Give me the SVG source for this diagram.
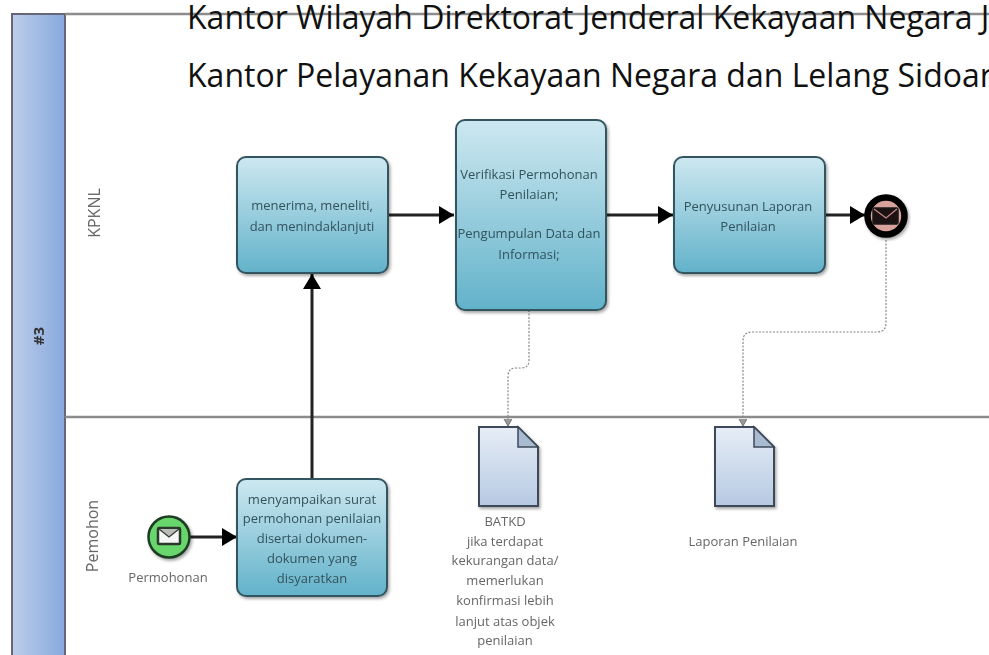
<svg xmlns="http://www.w3.org/2000/svg" width="989" height="655" viewBox="0 0 989 655">
<style>
.task{stroke:#33555f;stroke-width:2;fill:url(#tg)}
.t{font-family:"Open Sans","Noto Sans",sans-serif;font-size:13px;fill:#33525c;text-anchor:middle}
.g{font-family:"Open Sans","Noto Sans",sans-serif;font-size:13px;fill:#666;text-anchor:middle}
.h{font-family:"Open Sans","Noto Sans",sans-serif;font-size:32px;fill:#111}
.flow{fill:none;stroke:#222;stroke-width:3}
.assoc{fill:none;stroke:#888;stroke-width:1.2;stroke-dasharray:2 1.5}
.doc{fill:url(#dg);stroke:#3c4a58;stroke-width:2}
.lane{stroke:#8c8c8c;stroke-width:2.5;fill:none}
</style>
<defs>
<linearGradient id="tg" x1="0" y1="0" x2="0" y2="1"><stop offset="0" stop-color="#cde8f0"/><stop offset="1" stop-color="#62b2ca"/></linearGradient>
<linearGradient id="dg" x1="0" y1="0" x2="0" y2="1"><stop offset="0" stop-color="#e6edf6"/><stop offset="1" stop-color="#b6c9e2"/></linearGradient>
<linearGradient id="bg" x1="0" y1="0" x2="1" y2="0"><stop offset="0" stop-color="#bccde9"/><stop offset="1" stop-color="#87a9de"/></linearGradient>
<marker id="ah" markerUnits="userSpaceOnUse" markerWidth="16" markerHeight="18" refX="15" refY="9" orient="auto"><path d="M0 0L15 9L0 18Z" fill="#000"/></marker>
<marker id="oh" markerUnits="userSpaceOnUse" markerWidth="9" markerHeight="9" refX="8" refY="4" orient="auto"><path d="M1 0L8 4L1 8" fill="#999" stroke="#777"/></marker>
<filter id="sh" x="-10%" y="-10%" width="125%" height="125%"><feDropShadow dx="1.5" dy="2" stdDeviation="1.5" flood-color="#000" flood-opacity=".35"/></filter>
<filter id="b" x="-5%" y="-20%" width="110%" height="140%"><feGaussianBlur stdDeviation=".6"/></filter>
</defs>
<rect width="989" height="655" fill="#fff"/>
<g id="pool">
<path d="M12 660V14H65V660Z" fill="url(#bg)" stroke="#667" stroke-width="2"/>
<path class="lane" d="M65 14H989M65 417H989"/>
<text transform="translate(44 336) rotate(-90)" font-family="Open Sans,sans-serif" font-size="15" font-weight="700" fill="#333" text-anchor="middle" filter="url(#b)">#3</text>
<text class="g" transform="translate(100 213) rotate(-90)" style="font-size:16px" filter="url(#b)">KPKNL</text>
<text class="g" transform="translate(98 536) rotate(-90)" style="font-size:16px" filter="url(#b)">Pemohon</text>
</g>
<g id="titles">
<text class="h" x="187" y="29">Kantor Wilayah Direktorat Jenderal Kekayaan Negara J</text>
<text class="h" x="187" y="87">Kantor Pelayanan Kekayaan Negara dan Lelang Sidoar</text>
</g>
<g id="connectors">
<path class="flow" d="M388 215H454" marker-end="url(#ah)"/>
<path class="flow" d="M606 215H673" marker-end="url(#ah)"/>
<path class="flow" d="M825 215H865" marker-end="url(#ah)"/>
<path class="flow" d="M312 478V274" marker-end="url(#ah)"/>
<path class="flow" d="M190 537H237" marker-end="url(#ah)"/>
<path class="assoc" d="M529 310V360Q529 368 521 368H516Q508 368 508 376V426" marker-end="url(#oh)"/>
<path class="assoc" d="M886 240V323Q886 332 877 332H752Q743 332 743 341V426" marker-end="url(#oh)"/>
</g>
<g id="task-menerima">
<rect class="task" x="237" y="157" width="151" height="116" rx="9" filter="url(#sh)"/>
<g filter="url(#b)"><text class="t" x="312" y="210">menerima, meneliti,</text><text class="t" x="312" y="231">dan menindaklanjuti</text></g>
</g>
<g id="task-verifikasi">
<rect class="task" x="456" y="120" width="150" height="190" rx="9" filter="url(#sh)"/>
<g filter="url(#b)"><text class="t" x="529" y="179">Verifikasi Permohonan</text><text class="t" x="529" y="199">Penilaian;</text><text class="t" x="529" y="238">Pengumpulan Data dan</text><text class="t" x="529" y="259">Informasi;</text></g>
</g>
<g id="task-penyusunan">
<rect class="task" x="674" y="157" width="151" height="116" rx="9" filter="url(#sh)"/>
<g filter="url(#b)"><text class="t" x="748" y="211">Penyusunan Laporan</text><text class="t" x="748" y="231">Penilaian</text></g>
</g>
<g id="end-event">
<circle cx="886" cy="216" r="18.5" fill="#d9a39c" stroke="#000" stroke-width="6.5" filter="url(#sh)"/>
<rect x="873" y="208" width="25" height="16" rx="1.5" fill="#1c1214" stroke="#1a1a1a" stroke-width="1.5"/>
<path d="M874 209L886 218L897 209" fill="none" stroke="#c88a84" stroke-width="1.2"/>
</g>
<g id="start-event">
<circle cx="169" cy="537" r="20.5" fill="#69d66d" stroke="#1f3d24" stroke-width="2.5" filter="url(#sh)"/>
<rect x="158" y="528" width="22" height="16" rx="1" fill="#f6f6f6" stroke="#2a3a2a" stroke-width="2.5"/>
<path d="M159 529L169 537L179 529" fill="#bbb" stroke="#2a3a2a" stroke-width="1.2"/>
<text class="g" x="168" y="582" filter="url(#b)">Permohonan</text>
</g>
<g id="task-menyampaikan">
<rect class="task" x="237" y="479" width="150" height="117" rx="9" filter="url(#sh)"/>
<g filter="url(#b)"><text class="t" x="312" y="504">menyampaikan surat</text><text class="t" x="312" y="523">permohonan penilaian</text><text class="t" x="312" y="543">disertai dokumen-</text><text class="t" x="312" y="563">dokumen yang</text><text class="t" x="312" y="583">disyaratkan</text></g>
</g>
<g id="doc-batkd">
<path class="doc" d="M479 427H518L538 447V506H479Z" filter="url(#sh)"/>
<path d="M518 427V447H538Z" fill="#a9bbd0" stroke="#3c4a58" stroke-width="1.5"/>
<g filter="url(#b)"><text class="g" x="505" y="526">BATKD</text><text class="g" x="505" y="546">jika terdapat</text><text class="g" x="505" y="565">kekurangan data/</text><text class="g" x="505" y="585">memerlukan</text><text class="g" x="505" y="605">konfirmasi lebih</text><text class="g" x="505" y="626">lanjut atas objek</text><text class="g" x="505" y="645">penilaian</text></g>
</g>
<g id="doc-laporan">
<path class="doc" d="M715 427H754L774 447V506H715Z" filter="url(#sh)"/>
<path d="M754 427V447H774Z" fill="#a9bbd0" stroke="#3c4a58" stroke-width="1.5"/>
<text class="g" x="743" y="546" filter="url(#b)">Laporan Penilaian</text>
</g>
</svg>
